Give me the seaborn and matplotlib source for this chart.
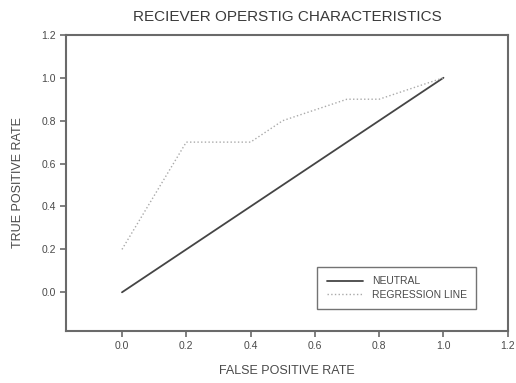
import pandas as pd
import matplotlib
matplotlib.use("Agg")
import matplotlib.pyplot as plt
import seaborn as sns

# Data
neutral_x = [0.0, 1.0]
neutral_y = [0.0, 1.0]

regression_x = [0.0, 0.1, 0.2, 0.4, 0.5, 0.6, 0.7, 0.8, 1.0]
regression_y = [0.2, 0.45, 0.7, 0.7, 0.8, 0.85, 0.9, 0.9, 1.0]

x_ticks = [0.0, 0.2, 0.4, 0.6, 0.8, 1.0, 1.2]
y_ticks = [0.0, 0.2, 0.4, 0.6, 0.8, 1.0, 1.2]

neutral = pd.DataFrame({"fpr": neutral_x, "tpr": neutral_y})
regression = pd.DataFrame({"fpr": regression_x, "tpr": regression_y})

sns.set_theme(style="ticks")
plt.rcParams["font.family"] = ["Liberation Sans", "DejaVu Sans"]

text_col = "#4a4a4a"
spine_col = "#6a6a6a"

fig = plt.figure(figsize=(5.16, 3.83), dpi=100)
ax = fig.add_axes([0.128, 0.136, 0.856, 0.773])

sns.lineplot(data=neutral, x="fpr", y="tpr", ax=ax, color="#454545",
             linewidth=1.3, label="NEUTRAL")
sns.lineplot(data=regression, x="fpr", y="tpr", ax=ax, color="#aaaaaa",
             linewidth=1.0, linestyle=":", label="REGRESSION LINE")

ax.set_xlim(-0.174, 1.2)
ax.set_ylim(-0.18, 1.2)
ax.set_xticks(x_ticks)
ax.set_yticks(y_ticks)
ax.set_xticklabels([f"{t:.1f}" for t in x_ticks])
ax.set_yticklabels([f"{t:.1f}" for t in y_ticks])

ax.tick_params(axis="both", labelsize=7.5, colors=spine_col, labelcolor=text_col,
               length=4, width=1.2, direction="out")
for side in ["top", "right", "left", "bottom"]:
    ax.spines[side].set_visible(True)
    ax.spines[side].set_color(spine_col)
    ax.spines[side].set_linewidth(1.5)

ax.set_title("RECIEVER OPERSTIG CHARACTERISTICS", fontsize=11, color="#3a3a3a", pad=10)
ax.set_xlabel("FALSE POSITIVE RATE", fontsize=9, color=text_col, labelpad=10)
ax.set_ylabel("TRUE POSITIVE RATE", fontsize=9, color=text_col, labelpad=12)

leg = ax.legend(loc="lower right", bbox_to_anchor=(0.94, 0.055), fontsize=7.5,
                frameon=True, fancybox=False, borderpad=0.9, handlelength=3.5,
                labelspacing=0.35)
leg.get_frame().set_edgecolor("#505050")
leg.get_frame().set_linewidth(1.0)
for t in leg.get_texts():
    t.set_color(text_col)

plt.savefig("out.png", dpi=100)
